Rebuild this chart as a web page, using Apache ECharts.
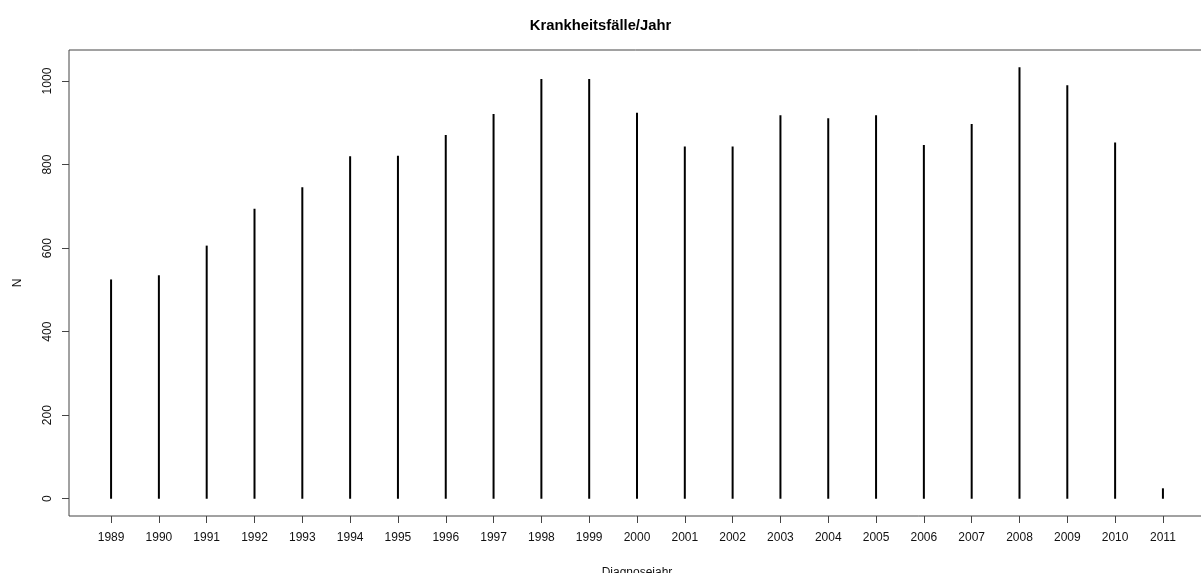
<!DOCTYPE html>
<html>
<head>
<meta charset="utf-8">
<script src="https://cdn.jsdelivr.net/npm/echarts@6/dist/echarts.min.js"></script>
<style>
html,body{margin:0;padding:0;background:#fff;}
#c{width:1201px;height:573px;}
</style>
</head>
<body>
<div id="c"></div>
<script>
var years = [1989,1990,1991,1992,1993,1994,1995,1996,1997,1998,1999,2000,2001,2002,2003,2004,2005,2006,2007,2008,2009,2010,2011];
var cases = [525,535,606,694,746,820,821,871,921,1005,1005,924,843,843,918,911,918,847,897,1033,990,853,25];
var yTicks = [0,200,400,600,800,1000];

var chart = echarts.init(document.getElementById('c'), null, {renderer:'canvas'});
var font = 'Liberation Sans, Arial, sans-serif';
var data = years.map(function(y,i){return [y, cases[i]];});
chart.setOption({
  animation:false,
  backgroundColor:'#fff',
  title:{
    text:'Krankheitsfälle/Jahr',
    left:'center', top:13,
    textStyle:{fontFamily:font, fontSize:14.8, fontWeight:'bold', color:'#000'}
  },
  grid:{left:69, top:50, width:1136, height:466, containLabel:false, outerBoundsMode:'none',
    show:true, borderColor:'#444', borderWidth:1, backgroundColor:'transparent'},
  xAxis:{
    type:'value', min:1988.12, max:2011.88,
    name:'Diagnosejahr', nameLocation:'middle', nameGap:51,
    nameTextStyle:{fontFamily:font, fontSize:12, color:'#111'},
    axisLine:{show:false, onZero:false},
    splitLine:{show:false},
    axisTick:{show:true, inside:false, length:7, lineStyle:{color:'#444', width:1}, customValues:years},
    axisLabel:{show:true, margin:16, fontFamily:font, fontSize:12, color:'#111', customValues:years,
      formatter:function(v){return String(v);}}
  },
  yAxis:{
    type:'value', min:-41.3, max:1074.3,
    name:'N', nameLocation:'middle', nameGap:45,
    nameTextStyle:{fontFamily:font, fontSize:12, color:'#111'},
    axisLine:{show:false, onZero:false},
    splitLine:{show:false},
    axisTick:{show:true, inside:false, length:7, lineStyle:{color:'#444', width:1}, customValues:yTicks},
    axisLabel:{show:true, rotate:90, margin:15, fontFamily:font, fontSize:12, color:'#111', customValues:yTicks,
      formatter:function(v){return String(v);}}
  },
  series:[{
    type:'bar',
    data:data,
    barWidth:2,
    itemStyle:{color:'#000'}
  }]
});
</script>
</body>
</html>
